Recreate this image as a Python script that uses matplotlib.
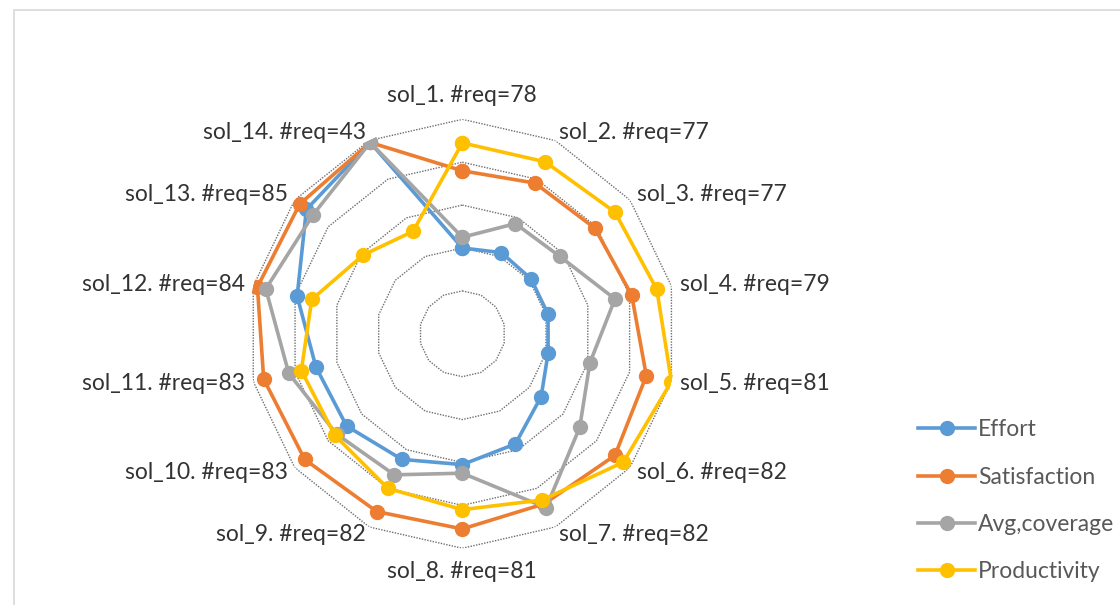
import numpy as np
import matplotlib
matplotlib.use("Agg")
from matplotlib import pyplot as plt
from matplotlib.patches import Rectangle

labels = ["sol_1. #req=78", "sol_2. #req=77", "sol_3. #req=77", "sol_4. #req=79",
          "sol_5. #req=81", "sol_6. #req=82", "sol_7. #req=82", "sol_8. #req=81",
          "sol_9. #req=82", "sol_10. #req=83", "sol_11. #req=83", "sol_12. #req=84",
          "sol_13. #req=85", "sol_14. #req=43"]

effort = [40, 42, 41, 41, 41, 47, 57, 61, 65, 69, 70, 79, 93, 99]
satisfaction = [76, 78, 79, 81, 88, 91, 88, 91, 92, 94, 95, 98, 97, 99]
coverage = [45, 57, 58, 73, 61, 70, 90, 65, 73, 75, 83, 94, 89, 99]
productivity = [89, 89, 91, 93, 100, 96, 86, 82, 80, 76, 77, 72, 59, 53]

series = [("Effort", effort, "#5B9BD5"),
          ("Satisfaction", satisfaction, "#ED7D31"),
          ("Avg,coverage", coverage, "#A5A5A5"),
          ("Productivity", productivity, "#FFC000")]

rings = [20, 40, 60, 80, 100]

plt.rcParams['font.family'] = ['Lato', 'DejaVu Sans']

fig = plt.figure(figsize=(11.2, 6.05), dpi=100)
ax = fig.add_axes([0.2213, 0.0938, 0.383, 0.709], projection="polar")
ax.set_theta_zero_location("N")
ax.set_theta_direction(-1)

n = len(labels)
angles = np.linspace(0, 2 * np.pi, n, endpoint=False)
closed = np.append(angles, angles[0])

# polygon gridlines like excel
for r in rings:
    ax.plot(closed, [r] * (n + 1), color="#6e6e6e", lw=1.0, ls=(0, (1, 1)), zorder=1)

for name, vals, col in series:
    v = vals + vals[:1]
    ax.plot(closed, v, color=col, lw=2.6, marker="o", markersize=10, label=name, zorder=3)

for a, lab in zip(angles, labels):
    s = np.sin(a)
    if abs(s) < 0.01:
        va = "bottom" if np.cos(a) > 0 else "top"
        ax.text(a, 106, lab, ha="center", va=va, fontsize=16.5, color="#333333", clip_on=False)
    else:
        ha = "left" if s > 0 else "right"
        ax.text(a, 104, lab, ha=ha, va="center", fontsize=16.5, color="#333333", clip_on=False)

ax.set_ylim(0, 100)
ax.set_xticks([])
ax.set_yticks([])
ax.grid(False)
ax.spines["polar"].set_visible(False)
ax.patch.set_visible(False)

leg = fig.legend(loc="upper left", bbox_to_anchor=(0.8116, 0.322), frameon=False,
                 fontsize=16.5, handlelength=2.5, labelspacing=1.15, handletextpad=0.1,
                 borderaxespad=0)
for t in leg.get_texts():
    t.set_color("#595959")

fig.patches.append(Rectangle((14 / 1120, -0.1), 1.2, 0.1 + (605 - 10) / 605,
                             transform=fig.transFigure, fill=False,
                             edgecolor="#d9d9d9", lw=1.2))

fig.savefig("out.png", dpi=100)
